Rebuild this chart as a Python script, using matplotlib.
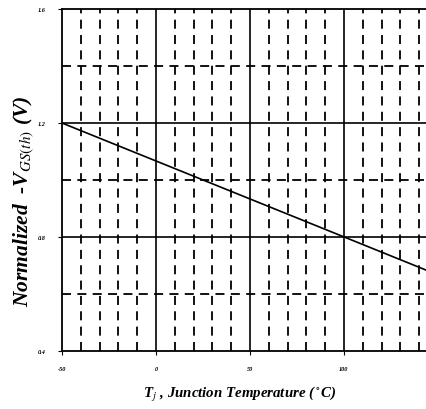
import matplotlib
matplotlib.use("Agg")
import matplotlib.pyplot as plt

plt.rcParams["mathtext.fontset"] = "stix"

temp = [-50, 150]
vgs = [1.2, 0.667]
xticks = [-50, 0, 50, 100]
xticklabels = ["-50", "0", "50", "100"]
yticks = [0.4, 0.8, 1.2, 1.6]
yticklabels = ["0.4", "0.8", "1.2", "1.6"]
x_major_solid = [0, 50, 100]
x_minor_dashed = [-40, -30, -20, -10, 10, 20, 30, 40, 60, 70, 80, 90, 110, 120, 130, 140]
y_solid = [0.8, 1.2]
y_dashed = [0.6, 1.0, 1.4]

W, H = 426, 410
fig = plt.figure(figsize=(W/100, H/100), dpi=100)
left, right, top, bottom = 62, 438, 10, 352
ax = fig.add_axes([left/W, 1-bottom/H, (right-left)/W, (bottom-top)/H])
ax.set_xlim(-50, 150)
ax.set_ylim(0.4, 1.6)

for x in x_minor_dashed:
    ax.axvline(x, color="black", lw=1.3, ls=(0, (5, 3.5)), zorder=1)
for y in y_dashed:
    ax.axhline(y, color="black", lw=1.3, ls=(0, (5, 3.5)), zorder=1)
for x in x_major_solid:
    ax.axvline(x, color="black", lw=1.2, zorder=2)
for y in y_solid:
    ax.axhline(y, color="black", lw=1.2, zorder=2)

ax.plot(temp, vgs, color="black", lw=1.2, zorder=3)

for s in ax.spines.values():
    s.set_linewidth(1.3)

serif = ["Liberation Serif", "DejaVu Serif"]
ax.set_xticks(xticks)
ax.set_xticklabels(xticklabels, family=serif, style="italic", weight="bold", fontsize=4.5)
ax.set_yticks(yticks)
ax.set_yticklabels(yticklabels, family=serif, style="italic", weight="bold", fontsize=4.5)
ax.tick_params(axis="x", length=3, width=0.8, direction="out", pad=8)
ax.tick_params(axis="y", length=3, width=0.8, direction="out", pad=9)

fig.text(24/W, 1-201/H, r"Normalized  -V$_{GS(th)}$ (V)", family=serif, style="italic",
         weight="bold", fontsize=15.5, rotation=90, ha="center", va="center")
fig.text(240/W, 1-398/H, r"T$_j$ , Junction Temperature ($^\circ$C)", family=serif,
         style="italic", weight="bold", fontsize=10.7, ha="center", va="baseline")

fig.savefig("out.png", dpi=100)
